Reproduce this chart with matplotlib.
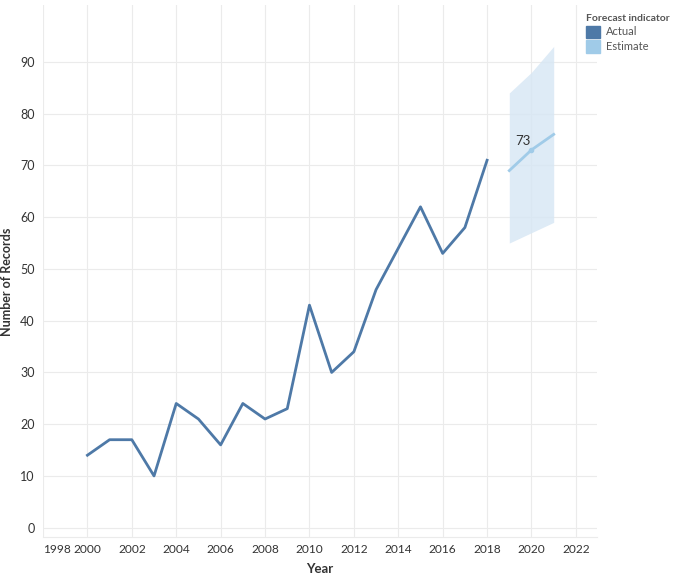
import matplotlib
matplotlib.use("Agg")
import matplotlib.pyplot as plt
from matplotlib.patches import Patch

plt.rcParams['font.family'] = ['Lato', 'DejaVu Sans']

years_actual = [2000, 2001, 2002, 2003, 2004, 2005, 2006, 2007, 2008, 2009,
                2010, 2011, 2012, 2013, 2014, 2015, 2016, 2017, 2018]
records_actual = [14, 17, 17, 10, 24, 21, 16, 24, 21, 23,
                  43, 30, 34, 46, 54, 62, 53, 58, 71]
years_est = [2019, 2020, 2021]
records_est = [69, 73, 76]
est_low = [55, 57, 59]
est_high = [84, 88, 93]
xticks = [1998, 2000, 2002, 2004, 2006, 2008, 2010, 2012, 2014, 2016, 2018, 2020, 2022]
yticks = [0, 10, 20, 30, 40, 50, 60, 70, 80, 90]

c_actual = '#4e79a7'
c_est = '#a0cbe8'
txt = '#333333'

fig = plt.figure(figsize=(6.85, 5.85), dpi=100)
ax = fig.add_axes([43/685, 1 - 537/585, (597-43)/685, (537-5)/585])

ax.fill_between(years_est, est_low, est_high, color='#d6e6f4', alpha=0.8, lw=0)
ax.plot(years_actual, records_actual, color=c_actual, lw=2)
ax.plot(years_est, records_est, color=c_est, lw=2)
ax.plot([years_est[1]], [records_est[1]], 'o', color=c_est, ms=3)
ax.text(years_est[1] - 0.4, records_est[1] + 1.8, str(records_est[1]), fontsize=9.5,
        color=txt, ha='center', va='center')

ax.set_xlim(1998, 2022.95)
ax.set_ylim(-1.8, 101)
ax.set_xticks(xticks)
ax.set_yticks(yticks)
ax.set_xticklabels([str(x) for x in xticks])
ax.get_xticklabels()[0].set_horizontalalignment('left')
ax.grid(True, color='#ebebeb', lw=0.8)
ax.set_axisbelow(True)
for s in ['top', 'right', 'left']:
    ax.spines[s].set_visible(False)
ax.spines['bottom'].set_color('#ebebeb')
ax.tick_params(length=0, labelsize=9, colors=txt)
ax.tick_params(axis='x', pad=5, labelsize=8.6)
ax.tick_params(axis='y', pad=6)
ax.set_xlabel('Year', fontsize=9.5, fontweight='bold', color=txt, labelpad=6)
ax.set_ylabel('Number of Records', fontsize=9, fontweight='bold', color=txt)
ax.yaxis.set_label_coords(-0.055, 0.48)

handles = [Patch(color=c_actual, label='Actual'), Patch(color=c_est, label='Estimate')]
leg = fig.legend(handles=handles, title='Forecast indicator', loc='upper left',
                 bbox_to_anchor=(578/685, 1 - 6/585), frameon=False, fontsize=8,
                 title_fontsize=7.5, handlelength=1.3, handleheight=1.3,
                 handletextpad=0.5, labelspacing=0.25, borderpad=0.2)
leg.get_title().set_color('#555555')
leg.get_title().set_fontweight('bold')
leg._legend_box.align = 'left'
for t in leg.get_texts():
    t.set_color('#555555')

fig.savefig('out.png', dpi=100)
